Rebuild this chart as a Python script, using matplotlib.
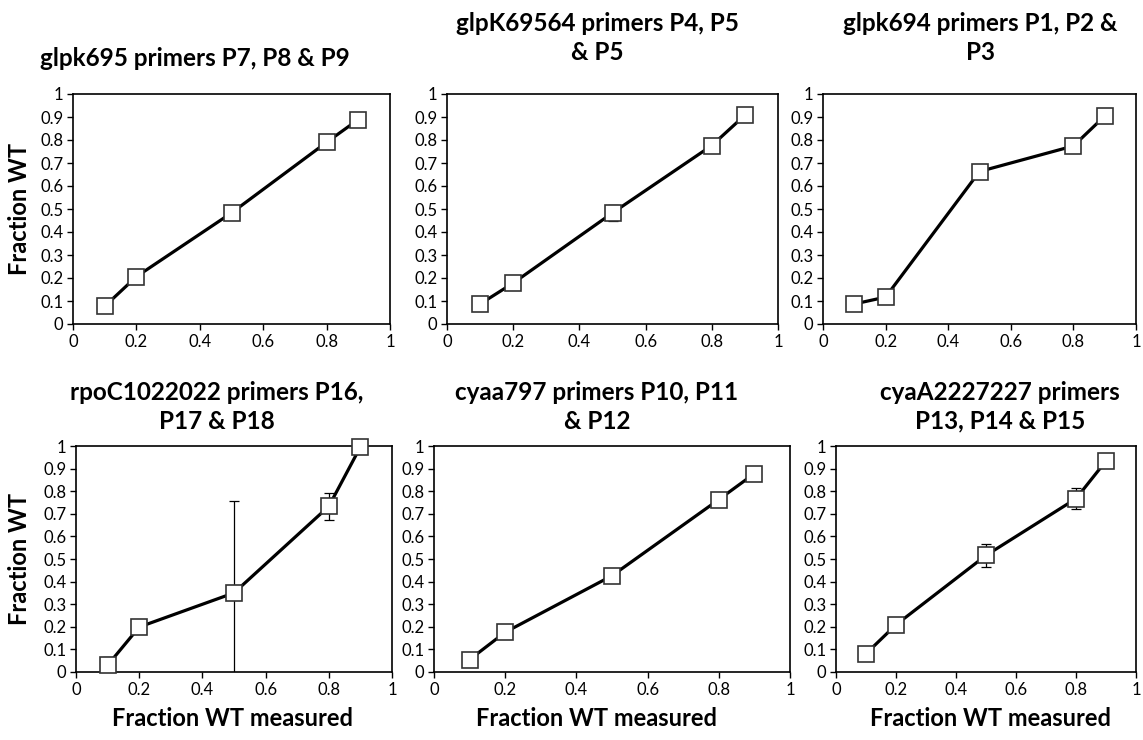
import numpy as np
import matplotlib.pyplot as plt

plt.rcParams['font.family'] = ['Lato', 'DejaVu Sans']

x_vals = [0.1, 0.2, 0.5, 0.8, 0.9]

titles = [
    "glpk695 primers P7, P8 & P9",
    "glpK69564 primers P4, P5\n& P5",
    "glpk694 primers P1, P2 &\nP3",
    "rpoC1022022 primers P16,\nP17 & P18",
    "cyaa797 primers P10, P11\n& P12",
    "cyaA2227227 primers\nP13, P14 & P15",
]

y_glpk695 = [0.077, 0.206, 0.483, 0.790, 0.889]
y_glpk69564 = [0.087, 0.178, 0.483, 0.776, 0.908]
y_glpk694 = [0.087, 0.117, 0.663, 0.774, 0.904]
y_rpoc = [0.030, 0.199, 0.350, 0.733, 0.996]
y_cyaa797 = [0.055, 0.176, 0.426, 0.763, 0.878]
y_cyaa2227 = [0.081, 0.209, 0.516, 0.767, 0.934]

err_glpk695 = [0, 0, 0, 0, 0]
err_glpk69564 = [0, 0, 0.035, 0, 0]
err_glpk694 = [0, 0, 0, 0, 0]
err_rpoc = [0.035, 0, 0.405, 0.06, 0]
err_cyaa797 = [0, 0, 0, 0, 0]
err_cyaa2227 = [0, 0, 0.05, 0.047, 0]

series = [y_glpk695, y_glpk69564, y_glpk694, y_rpoc, y_cyaa797, y_cyaa2227]
errors = [err_glpk695, err_glpk69564, err_glpk694, err_rpoc, err_cyaa797, err_cyaa2227]

W, H = 1143, 740
fig = plt.figure(figsize=(W / 100, H / 100), dpi=100)

# axes boxes in pixels: left, right, top, bottom
boxes = [
    (73, 390, 94, 324), (447, 778, 94, 324), (823, 1136, 94, 324),
    (76, 392, 446, 672), (434, 790, 446, 672), (836, 1136, 446, 672),
]
title_pos = [(195, 58), (597, 38), (980, 38), (217, 407), (597, 407), (1000, 407)]
xlabel_x = [232, 597, 990]

for i, (l, r, t, b) in enumerate(boxes):
    ax = fig.add_axes([l / W, 1 - b / H, (r - l) / W, (b - t) / H])
    y = np.array(series[i])
    e = np.array(errors[i])
    ax.errorbar(x_vals, y, yerr=e, fmt='none', ecolor='black', elinewidth=0.9,
                capsize=3.5, capthick=0.9, zorder=2)
    ax.plot(x_vals, y, color='black', lw=2.3, zorder=3)
    ax.plot(x_vals, y, ls='none', marker='s', ms=12, mfc='white',
            mec='#333333', mew=1.2, zorder=4, clip_on=False)
    ax.set_xlim(0, 1)
    ax.set_ylim(0, 1)
    ax.set_xticks([0, 0.2, 0.4, 0.6, 0.8, 1])
    ax.set_xticklabels(['0', '0.2', '0.4', '0.6', '0.8', '1'])
    ax.set_yticks(np.arange(0, 1.01, 0.1))
    ax.set_yticklabels(['0'] + ['%.1f' % v for v in np.arange(0.1, 0.95, 0.1)] + ['1'])
    ax.tick_params(direction='out', length=4, width=1, labelsize=12, pad=3)
    for s in ax.spines.values():
        s.set_linewidth(1.2)
        s.set_color('black')
    tx, ty = title_pos[i]
    fig.text(tx / W, 1 - ty / H, titles[i], ha='center', va='center',
             fontsize=17.5, fontweight='bold', linespacing=1.3)
    if i % 3 == 0:
        fig.text(20 / W, 1 - (t + b) / 2 / H, 'Fraction WT', rotation=90,
                 ha='center', va='center', fontsize=17, fontweight='bold')
    if i >= 3:
        fig.text(xlabel_x[i - 3] / W, 1 - 718 / H, 'Fraction WT measured',
                 ha='center', va='center', fontsize=17, fontweight='bold')

fig.savefig('out.png', dpi=100)
